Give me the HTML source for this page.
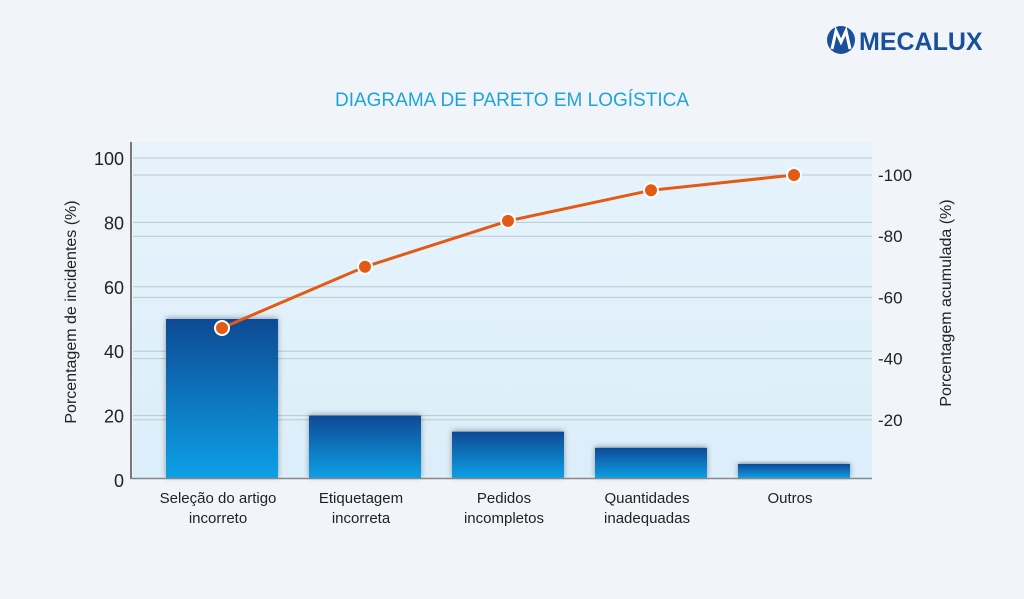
<!DOCTYPE html>
<html><head><meta charset="utf-8"><style>
body{margin:0;background:#f1f5f9;width:1024px;height:594px;overflow:hidden;font-family:"Liberation Sans",sans-serif}
</style></head><body>
<svg width="1024" height="594" xmlns="http://www.w3.org/2000/svg">
<defs>
<linearGradient id="bg" x1="0" y1="0" x2="0" y2="1"><stop offset="0" stop-color="#e6f3fb"/><stop offset="1" stop-color="#dceefa"/></linearGradient>
<linearGradient id="bar" x1="0" y1="0" x2="0" y2="1"><stop offset="0" stop-color="#0a4a94"/><stop offset="1" stop-color="#0aa0e6"/></linearGradient>
<filter id="sh" x="-20%" y="-20%" width="140%" height="140%"><feDropShadow dx="0" dy="-1" stdDeviation="3" flood-color="#000" flood-opacity="0.35"/></filter>
</defs>
<rect width="1024" height="594" fill="#f1f5f9"/>
<g>
<circle cx="841" cy="40" r="14" fill="#1a4f9c"/>
<path d="M832 49 L836 31 L841 42 L846 31 L850 49" stroke="#fff" stroke-width="3" fill="none"/>
<text x="859" y="50" font-size="25" font-weight="bold" fill="#1a4f9c">MECALUX</text>
</g>
<text x="512" y="106" text-anchor="middle" font-size="19" fill="#1fa3dc">DIAGRAMA DE PARETO EM LOGÍSTICA</text>
<rect x="133" y="142" width="739" height="336" fill="url(#bg)"/>
<g id="grid"></g>
<g id="bars"></g>
<line x1="131" y1="142" x2="131" y2="479" stroke="#777" stroke-width="2"/>
<line x1="131" y1="478.5" x2="872" y2="478.5" stroke="#888" stroke-width="1.5"/>
<g id="line"></g>
<g id="labels" font-size="16" fill="#222"></g>
<text transform="translate(76,312) rotate(-90)" text-anchor="middle" font-size="16" fill="#222">Porcentagem de incidentes (%)</text>
<text transform="translate(951,303) rotate(-90)" text-anchor="middle" font-size="16" fill="#222">Porcentagem acumulada (%)</text>
</svg>
<script>
const categories=[["Seleção do artigo","incorreto"],["Etiquetagem","incorreta"],["Pedidos","incompletos"],["Quantidades","inadequadas"],["Outros"]];
const incidents=[50,20,15,10,5];
const cumulative=[50,70,85,95,100];
const leftTicks=[0,20,40,60,80,100];
const rightTicks=[20,40,60,80,100];
const NS="http://www.w3.org/2000/svg";
const yL=v=>480-v*3.22, yR=v=>481-v*3.06, xC=i=>222+i*143;
function mk(t,a,p){const e=document.createElementNS(NS,t);for(const k in a)e.setAttribute(k,a[k]);p.appendChild(e);return e;}
const grid=document.getElementById('grid'),bars=document.getElementById('bars'),line=document.getElementById('line'),lab=document.getElementById('labels');
leftTicks.forEach(v=>{
 if(v>0){const g=mk('line',{x1:133,x2:872,y1:yL(v),y2:yL(v),stroke:'#b9c7d1','stroke-width':1},grid);
 
 }
 const t=mk('text',{x:124,y:yL(v)+7,'text-anchor':'end','font-size':18},lab);t.textContent=v;
 
 
});
rightTicks.forEach(v=>{
 const g=mk('line',{x1:133,x2:872,y1:yR(v),y2:yR(v),stroke:'#b9c7d1','stroke-width':1},grid);
 
 
 const t=mk('text',{x:878,y:yR(v)+6,'font-size':17},lab);t.textContent='-'+v;
 
 
});
incidents.forEach((v,i)=>{
 const r=mk('rect',{x:xC(i)-56,y:yL(v),width:112,height:478-yL(v),fill:'url(#bar)',filter:'url(#sh)'},bars);
 
 
});
categories.forEach((c,i)=>{c.forEach((s,j)=>{
 const t=mk('text',{x:xC(i)-4,y:503+j*20,'text-anchor':'middle','font-size':15},lab);t.textContent=s;
 
 
});});
const pts=cumulative.map((v,i)=>[xC(i),yR(v)]);
const pl=mk('polyline',{points:pts.map(p=>p.join(',')).join(' '),fill:'none',stroke:'#e35a14','stroke-width':3},line);


pts.forEach(p=>{
 const c=mk('circle',{cx:p[0],cy:p[1],r:7,fill:'#e35a14',stroke:'#fff','stroke-width':2},line);
 
 
});
</script>
</body></html>
